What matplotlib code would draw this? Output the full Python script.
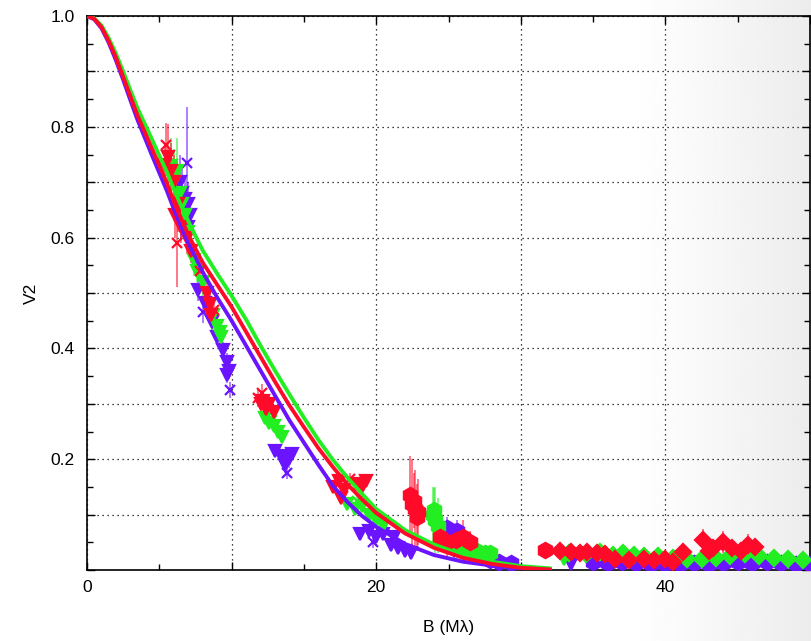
import numpy as np
import matplotlib.pyplot as plt
from matplotlib.ticker import MultipleLocator, FuncFormatter

# --- model curves ---
model_B = [0, 0.5, 1, 1.5, 2, 2.5, 3, 3.5, 4, 4.5, 5, 5.5, 6, 6.5, 7, 7.5, 8, 9, 10, 11,
           12, 13, 14, 15, 16, 17, 18, 19, 20, 22, 24, 26, 28, 30, 32]
model_red = [1.0, 0.995, 0.98, 0.955, 0.925, 0.89, 0.855, 0.82, 0.79, 0.76, 0.73, 0.70, 0.665,
             0.635, 0.605, 0.58, 0.555, 0.515, 0.475, 0.43, 0.385, 0.34, 0.297, 0.258, 0.22,
             0.186, 0.155, 0.128, 0.103, 0.066, 0.04, 0.022, 0.011, 0.004, 0.001]
model_green = [1.0, 0.996, 0.983, 0.96, 0.932, 0.9, 0.866, 0.833, 0.805, 0.777, 0.748, 0.72,
               0.688, 0.658, 0.63, 0.603, 0.577, 0.535, 0.495, 0.452, 0.405, 0.36, 0.317,
               0.275, 0.235, 0.199, 0.167, 0.138, 0.11, 0.072, 0.046, 0.027, 0.015, 0.007, 0.003]
model_purple = [1.0, 0.994, 0.978, 0.952, 0.92, 0.885, 0.848, 0.812, 0.78, 0.748, 0.717, 0.686,
                0.652, 0.62, 0.59, 0.565, 0.538, 0.492, 0.45, 0.405, 0.36, 0.315, 0.27, 0.23,
                0.19, 0.152, 0.123, 0.098, 0.078, 0.047, 0.027, 0.015, 0.008, 0.003, 0.001]

# --- measurements: baseline, V2, error, marker ---
red_B = [5.47, 5.40, 5.6, 5.8, 6.0, 6.23, 6.1, 6.5, 6.9, 7.2, 6.3,
         8.3, 8.5, 8.6, 8.8, 7.8,
         11.8, 12.0, 12.2, 12.4, 12.6, 12.9, 12.1,
         17.0, 17.4, 17.8, 18.2, 18.6, 19.0, 19.3, 17.6,
         22.35, 22.5, 22.7, 22.8, 22.9, 22.6,
         24.4, 24.9, 25.5, 26.0, 26.5,
         31.7, 32.7, 33.5, 34.1, 34.6, 35.3, 35.8, 36.5, 37.5, 38.5, 39.2, 40.0, 40.5,
         41.2, 42.6, 43.0, 43.3, 44.0, 44.6, 45.2, 45.7, 46.2]
red_V = [0.767, 0.731, 0.745, 0.72, 0.70, 0.59, 0.64, 0.62, 0.60, 0.575, 0.66,
         0.50, 0.48, 0.46, 0.47, 0.54,
         0.31, 0.30, 0.305, 0.29, 0.30, 0.285, 0.32,
         0.15, 0.16, 0.145, 0.165, 0.155, 0.15, 0.16, 0.13,
         0.135, 0.12, 0.11, 0.095, 0.105, 0.125,
         0.06, 0.05, 0.055, 0.06, 0.05,
         0.036, 0.035, 0.033, 0.030, 0.032, 0.03, 0.028, 0.02, 0.018, 0.02, 0.018, 0.02, 0.015,
         0.033, 0.054, 0.035, 0.04, 0.05, 0.04, 0.035, 0.045, 0.042]
red_err = [0.04, 0.04, 0.06, 0.05, 0.05, 0.08, 0.04, 0.03, 0.03, 0.02, 0.05,
           0.03, 0.03, 0.02, 0.02, 0.02,
           0.015, 0.015, 0.015, 0.015, 0.015, 0.01, 0.015,
           0.01, 0.01, 0.01, 0.01, 0.01, 0.01, 0.01, 0.01,
           0.07, 0.08, 0.07, 0.06, 0.06, 0.05,
           0.02, 0.03, 0.03, 0.03, 0.02,
           0.01, 0.015, 0.015, 0.01, 0.015, 0.01, 0.012, 0.008, 0.008, 0.01, 0.01, 0.008, 0.008,
           0.015, 0.02, 0.015, 0.015, 0.02, 0.015, 0.015, 0.02, 0.015]
red_mk = ['x', 'v', 'v', 'v', 'v', 'x', 'v', 'v', 'v', 'v', 'v',
          'v', 'v', 'v', 'x', 'x',
          'x', 'v', 'v', 'v', 'v', 'v', 'x',
          'v', 'v', 'v', 'x', 'v', 'v', 'v', 'v',
          'h', 'h', 'h', 'h', 'h', 'h',
          'h', 'h', 'h', 'h', 'h',
          'h', 'D', 'D', 'D', 'D', 'D', 'D', 'D', 'D', 'D', 'D', 'D', 'D',
          'D', 'D', 'D', 'D', 'D', 'D', 'D', 'D', 'D']

green_B = [5.8, 6.0, 6.2, 6.4, 6.6, 6.8, 7.0, 7.4, 7.6,
           8.0, 8.7, 9.0, 9.2, 9.3,
           12.3, 12.6, 12.9, 13.2, 13.5, 12.8,
           18.0, 18.5, 19.0, 19.5, 20.0, 20.5, 18.7,
           23.9, 24.1, 24.3, 24.0,
           25.6, 26.0, 26.5, 27.0, 27.5, 27.9,
           33.0, 33.3, 34.5, 35.5, 36.4, 37.1, 37.8, 38.5, 39.5, 40.5, 41.5, 42.5,
           43.5, 44.5, 45.5, 46.5, 47.5, 48.5, 49.5]
green_V = [0.73, 0.70, 0.72, 0.68, 0.66, 0.64, 0.61, 0.56, 0.54,
           0.52, 0.46, 0.44, 0.43, 0.42,
           0.275, 0.265, 0.26, 0.25, 0.24, 0.27,
           0.12, 0.11, 0.115, 0.10, 0.09, 0.08, 0.125,
           0.10, 0.09, 0.08, 0.108,
           0.04, 0.035, 0.04, 0.035, 0.03, 0.03,
           0.02, 0.03, 0.028, 0.032, 0.027, 0.03, 0.027, 0.025, 0.025, 0.022, 0.02, 0.02,
           0.022, 0.025, 0.028, 0.025, 0.022, 0.02, 0.018]
green_err = [0.05, 0.06, 0.06, 0.05, 0.05, 0.04, 0.04, 0.03, 0.02,
             0.03, 0.03, 0.02, 0.02, 0.02,
             0.01, 0.01, 0.01, 0.01, 0.01, 0.01,
             0.01, 0.01, 0.01, 0.01, 0.01, 0.01, 0.01,
             0.05, 0.06, 0.05, 0.04,
             0.02, 0.02, 0.015, 0.015, 0.01, 0.01,
             0.01, 0.01, 0.012, 0.01, 0.01, 0.01, 0.01, 0.01, 0.008, 0.008, 0.008, 0.008,
             0.01, 0.01, 0.01, 0.01, 0.01, 0.008, 0.008]
green_mk = ['v'] * 14 + ['v', 'v', 'v', 'v', 'v', 'x'] + ['v'] * 6 + ['x'] + ['h'] * 10 \
           + ['v'] + ['D'] * 18

purple_B = [6.92, 6.4, 6.6, 6.8, 7.0, 7.1, 6.5, 6.2, 7.0,
            7.7, 8.17, 8.0, 8.65, 9.0, 9.4, 9.7, 9.7, 9.8, 9.9,
            13.0, 13.4, 13.7, 14.0, 14.2, 13.8,
            18.9, 19.5, 20.0, 20.5, 21.0, 21.5, 22.0, 22.4, 19.8, 21.2,
            24.9, 25.2, 25.6, 25.4,
            27.9, 28.5, 29.3,
            33.5, 35.0, 36.0, 37.0, 38.0, 39.0, 40.0, 41.0, 42.0, 43.0, 44.0, 45.0,
            46.0, 47.0, 48.0, 49.0, 50.0]
purple_V = [0.735, 0.70, 0.68, 0.67, 0.66, 0.64, 0.65, 0.69, 0.62,
            0.506, 0.482, 0.466, 0.448, 0.421, 0.397, 0.376, 0.352, 0.36, 0.325,
            0.215, 0.205, 0.19, 0.20, 0.21, 0.175,
            0.065, 0.07, 0.06, 0.065, 0.045, 0.04, 0.035, 0.03, 0.05, 0.06,
            0.075, 0.06, 0.07, 0.04,
            0.018, 0.015, 0.013,
            0.01, 0.015, 0.012, 0.015, 0.012, 0.01, 0.01, 0.01, 0.012, 0.01, 0.012, 0.015,
            0.012, 0.015, 0.012, 0.01, 0.01]
purple_err = [0.1, 0.05, 0.05, 0.04, 0.04, 0.03, 0.05, 0.05, 0.03,
              0.02, 0.02, 0.02, 0.02, 0.015, 0.015, 0.015, 0.015, 0.015, 0.015,
              0.01, 0.01, 0.015, 0.015, 0.01, 0.01,
              0.01, 0.01, 0.01, 0.01, 0.01, 0.01, 0.01, 0.01, 0.01, 0.01,
              0.02, 0.02, 0.02, 0.02,
              0.005, 0.005, 0.005] + [0.005] * 17
purple_mk = ['x'] + ['v'] * 8 + ['v', 'v', 'x', 'v', 'v', 'v', 'v', 'v', 'v', 'x'] \
            + ['v', 'v', 'v', 'v', 'v', 'x'] + ['v'] * 8 + ['x', 'v'] + ['h'] * 7 \
            + ['v'] + ['h'] * 16

RED = '#ff0a28'
GREEN = '#22ee22'
PURPLE = '#6a14ff'

plt.rcParams['font.family'] = ['Liberation Sans', 'DejaVu Sans']

fig = plt.figure(figsize=(8.11, 6.41), dpi=100)

# soft grey shading on the right side of the page
bg = fig.add_axes([0, 0, 1, 1], zorder=-10)
grad = np.ones((10, 400))
ramp = np.clip((np.linspace(0, 1, 400) - 0.77) / 0.23, 0, 1)
grad = grad * (1 - 0.075 * ramp ** 1.2)
bg.imshow(grad, cmap='gray', vmin=0, vmax=1, aspect='auto', extent=[0, 1, 0, 1])
bg.axis('off')

ax = fig.add_axes([87 / 811, 1 - 570 / 641, 723 / 811, 554 / 641])
ax.patch.set_alpha(0)


def draw_points(B, V, err, mk, color):
    B = np.array(B)
    V = np.array(V)
    err = np.array(err)
    mk = np.array(mk)
    for m in np.unique(mk):
        sel = mk == m
        ax.errorbar(B[sel], V[sel], yerr=err[sel], fmt='none', ecolor=color,
                    elinewidth=1.4, alpha=0.55, zorder=2)
        size = {'x': 7, 'v': 9, 'h': 11, 'D': 8.5}[m]
        ax.plot(B[sel], V[sel], ls='none', marker=m, ms=size, color=color,
                mec=color, mew=1.6, zorder=3)


draw_points(purple_B, purple_V, purple_err, purple_mk, PURPLE)
draw_points(green_B, green_V, green_err, green_mk, GREEN)
draw_points(red_B, red_V, red_err, red_mk, RED)

ax.plot(model_B, model_purple, color=PURPLE, lw=2.8, zorder=4, solid_joinstyle='round')
ax.plot(model_B, model_green, color=GREEN, lw=2.8, zorder=4, solid_joinstyle='round')
ax.plot(model_B, model_red, color=RED, lw=2.8, zorder=5, solid_joinstyle='round')

ax.set_xlim(0, 50)
ax.set_ylim(0, 1.0)
ax.xaxis.set_major_locator(MultipleLocator(10))
ax.xaxis.set_minor_locator(MultipleLocator(5))
ax.yaxis.set_major_locator(MultipleLocator(0.1))
ax.yaxis.set_minor_locator(MultipleLocator(0.05))
ax.xaxis.set_major_formatter(FuncFormatter(
    lambda v, p: '%d' % v if round(v) % 20 == 0 else ''))
ax.yaxis.set_major_formatter(FuncFormatter(
    lambda v, p: '%.1f' % v if (round(v * 10) % 2 == 0 and v > 0.01) else ''))

ax.tick_params(which='both', direction='in', top=True, right=True,
               labelsize=12.5, color='black', width=1)
ax.tick_params(which='major', length=6)
ax.tick_params(axis='x', which='major', pad=7)
ax.tick_params(axis='y', which='major', pad=9)
ax.tick_params(which='minor', length=4)
ax.grid(True, which='major', ls=(0, (1, 3)), color='black', lw=0.9)
for s in ax.spines.values():
    s.set_linewidth(1.2)

ax.set_xlabel('B (M\u03bb)', fontsize=12.5, labelpad=18)
ax.set_ylabel('V2', fontsize=12.5, labelpad=8)

fig.savefig('out.png', dpi=100)
